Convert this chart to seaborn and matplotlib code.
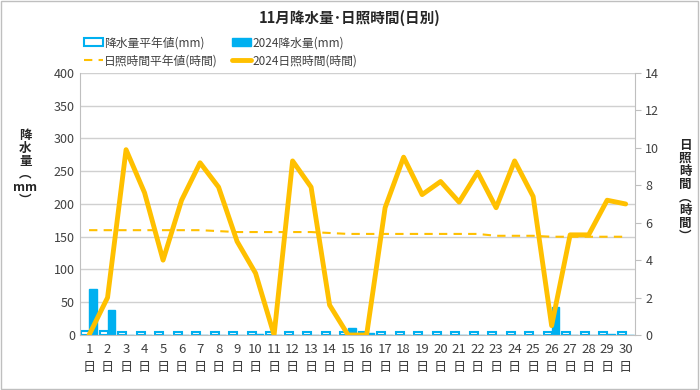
import numpy as np
import pandas as pd
import matplotlib
matplotlib.use("Agg")
import matplotlib.pyplot as plt
import seaborn as sns
from matplotlib.patches import Patch
from matplotlib.lines import Line2D

days = list(range(1, 31))
rain_normal = [6, 6, 5, 5, 5, 5, 5, 5, 5, 5, 5, 5, 5, 5, 5, 5, 4, 4, 4, 4, 4, 4, 4, 4, 4, 5, 5, 5, 5, 5]
rain_2024 = [70, 38, 0, 0, 0, 0, 0, 0, 0, 1, 0, 0, 0, 0, 11, 3, 0, 0, 0, 0, 0, 0, 0, 0, 0, 42, 0, 0, 1, 0]
sun_normal = [5.6, 5.6, 5.6, 5.6, 5.6, 5.6, 5.6, 5.55, 5.5, 5.5, 5.5, 5.5, 5.5, 5.45, 5.4, 5.4, 5.4, 5.4, 5.4, 5.4,
              5.4, 5.4, 5.3, 5.3, 5.3, 5.25, 5.25, 5.25, 5.25, 5.25]
sun_2024 = [0, 2.0, 9.9, 7.6, 4.0, 7.2, 9.2, 7.9, 5.0, 3.3, 0, 9.3, 7.9, 1.6, 0, 0, 6.8, 9.5, 7.5, 8.2,
            7.1, 8.7, 6.8, 9.3, 7.4, 0.5, 5.35, 5.35, 7.2, 7.0]
xlabels = [f"{d}\n日" for d in days]

sns.set_style("white")
plt.rcParams['font.family'] = ['Noto Sans CJK JP', 'DejaVu Sans']

blue = "#00B0F0"
gold = "#FFC000"

df = pd.DataFrame({
    "day": days * 2,
    "rain": rain_normal + rain_2024,
    "kind": ["平年"] * 30 + ["2024"] * 30,
})

fig = plt.figure(figsize=(7, 3.9), dpi=100)
ax = fig.add_axes([0.114, 0.141, 0.793, 0.672])

sns.barplot(data=df, x="day", y="rain", hue="kind", ax=ax, palette=["white", blue],
            width=0.85, legend=False, saturation=1)
n = len(days)
for p in ax.patches[:n]:
    p.set_edgecolor(blue)
    p.set_linewidth(1.5)
for p in ax.patches[n:]:
    p.set_edgecolor(blue)

ax.set_ylim(0, 400)
ax.set_yticks(range(0, 401, 50))
ax.set_xlim(-0.5, 29.5)
ax.set_xticks(range(n))
ax.set_xticklabels(xlabels, fontsize=9.5, color="#404040", linespacing=1.5)
ax.tick_params(axis="y", labelsize=9, colors="#404040", length=0)
ax.tick_params(axis="x", length=0, pad=6)
ax.yaxis.grid(True, color="#D0D0D0", linewidth=1)
ax.set_axisbelow(True)
ax.set_xlabel("")
ax.set_ylabel("")
for s in ["top", "right"]:
    ax.spines[s].set_visible(False)
ax.spines["left"].set_color("#BFBFBF")
ax.spines["bottom"].set_color("#BFBFBF")

ax2 = ax.twinx()
xpos = np.arange(n)
sns.lineplot(x=xpos, y=sun_normal, ax=ax2, color=gold, linewidth=1.5, linestyle=(0, (4, 3)))
sns.lineplot(x=xpos, y=sun_2024, ax=ax2, color=gold, linewidth=3.5)
ax2.set_ylim(0, 14)
ax2.set_yticks(range(0, 15, 2))
ax2.tick_params(axis="y", labelsize=9, colors="#404040", length=4, color="#BFBFBF")
for s in ["top", "left", "bottom"]:
    ax2.spines[s].set_visible(False)
ax2.spines["right"].set_color("#BFBFBF")
ax2.set_xlim(-0.5, 29.5)

fig.text(0.5, 0.955, "11月降水量･日照時間(日別)", ha="center", va="center", fontsize=10.5, fontweight="bold")
fig.text(0.036, 0.57, "降\n水\n量\n︵\nmm\n︶", ha="center", va="center", fontsize=9, fontweight="bold",
         linespacing=1.0)
fig.text(0.979, 0.51, "日\n照\n時\n間\n︵\n時\n間\n︶", ha="center", va="center", fontsize=9,
         fontweight="bold", linespacing=1.0)

handles = [
    Patch(facecolor="white", edgecolor=blue, linewidth=1.5),
    Line2D([0], [0], color=gold, linewidth=1.5, linestyle=(0, (4, 3))),
    Patch(facecolor=blue, edgecolor=blue),
    Line2D([0], [0], color=gold, linewidth=3.5),
]
labels = ["降水量平年値(mm)", "日照時間平年値(時間)", "2024降水量(mm)", "2024日照時間(時間)"]
fig.legend(handles, labels, ncol=2, loc="center", bbox_to_anchor=(0.315, 0.867), frameon=False,
           fontsize=8.5, handlelength=1.6, handletextpad=0.1, columnspacing=1.2, labelspacing=0.45,
           labelcolor="#404040")

fig.patches.append(plt.Rectangle((0.002, 0.003), 0.995, 0.994, transform=fig.transFigure,
                                 fill=False, edgecolor="#BFBFBF", linewidth=1))

fig.savefig("out.png", dpi=100)
